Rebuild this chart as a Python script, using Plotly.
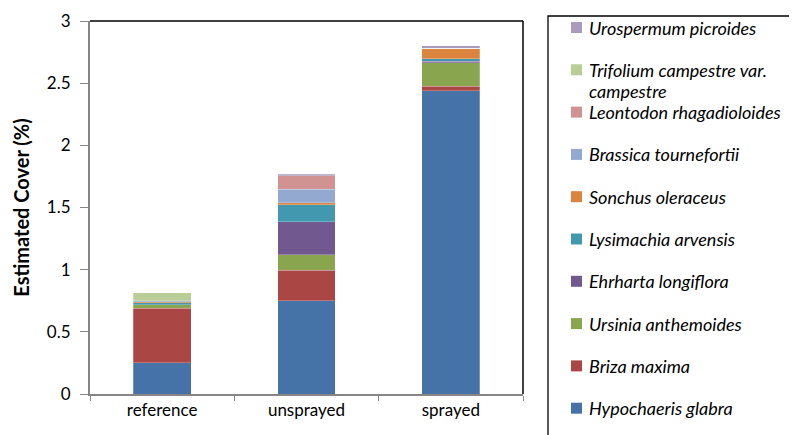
import plotly.graph_objects as go

categories = ["reference", "unsprayed", "sprayed"]

species = [
    "Hypochaeris glabra",
    "Briza maxima",
    "Ursinia anthemoides",
    "Ehrharta longiflora",
    "Lysimachia arvensis",
    "Sonchus oleraceus",
    "Brassica tournefortii",
    "Leontodon rhagadioloides",
    "Trifolium campestre var.<br>campestre",
    "Urospermum picroides",
]

hypochaeris = [0.25, 0.75, 2.44]
briza = [0.44, 0.245, 0.035]
ursinia = [0.027, 0.124, 0.19]
ehrharta = [0.0, 0.265, 0.01]
lysimachia = [0.018, 0.137, 0.02]
sonchus = [0.008, 0.018, 0.08]
brassica = [0.008, 0.107, 0.005]
leontodon = [0.0, 0.11, 0.0]
trifolium = [0.064, 0.0, 0.0]
urospermum = [0.0, 0.01, 0.02]

series = [hypochaeris, briza, ursinia, ehrharta, lysimachia,
          sonchus, brassica, leontodon, trifolium, urospermum]

colors = ["#4572A7", "#AA4643", "#89A54E", "#71588F", "#4198AF",
          "#DB843D", "#93A9CF", "#D19392", "#B9CD96", "#A99BBD"]

FONT = "Lato, 'Open Sans', sans-serif"

# figure sits at an 8px body offset in the page
W, H = 789, 427
ML, MR, MT, MB = 82, 274, 13, 41
PW = W - ML - MR
PH = H - MT - MB


def px_to_paper(xp, yp):
    # page pixel -> paper coords (page = figure + 8px offset)
    return ((xp - 8 - ML) / PW, (H - MB - (yp - 8)) / PH)


fig = go.Figure()
for i, (name, vals, col) in enumerate(zip(species, series, colors)):
    fig.add_trace(go.Bar(
        x=categories, y=vals, name=name.replace("<br>", " "),
        marker=dict(color=col, line=dict(color="rgba(255,255,255,0.5)", width=0.5)),
        width=0.40, showlegend=False,
    ))

# hand-built legend (uniform spacing like the original)
shapes = [
    dict(type="line", xref="paper", yref="paper", x0=0, x1=1, y0=1, y1=1,
         line=dict(color="#000000", width=1.5)),
    dict(type="line", xref="paper", yref="paper", x0=1, x1=1, y0=0, y1=1,
         line=dict(color="#000000", width=1.5)),
]
annotations = []
bx0, by0 = px_to_paper(548, 16)
bx1, by1 = px_to_paper(820, 460)
shapes.append(dict(type="rect", xref="paper", yref="paper", x0=bx0, x1=bx1, y0=by0, y1=by1,
                   line=dict(color="#000000", width=1.3), fillcolor="rgba(0,0,0,0)"))
n = len(species)
for k in range(n):
    i = n - 1 - k
    yc = 27.5 + k * 42.3
    sx0, sy0 = px_to_paper(571, yc - 5.5)
    sx1, sy1 = px_to_paper(582, yc + 5.5)
    shapes.append(dict(type="rect", xref="paper", yref="paper", x0=sx0, x1=sx1, y0=sy1, y1=sy0,
                       line=dict(width=0), fillcolor=colors[i]))
    for j, line in enumerate(species[i].split("<br>")):
        tx, ty = px_to_paper(587, yc + j * 21.5)
        annotations.append(dict(xref="paper", yref="paper", x=tx, y=ty, xanchor="left",
                                yanchor="middle", text="<i>" + line + "</i>", showarrow=False,
                                align="left", font=dict(family=FONT, size=18, color="#000000")))

fig.update_layout(
    barmode="stack",
    width=W, height=H,
    margin=dict(l=ML, r=MR, t=MT, b=MB, autoexpand=False),
    paper_bgcolor="white", plot_bgcolor="white",
    font=dict(family=FONT, color="#000000"),
    showlegend=False,
    xaxis=dict(
        showline=True, linecolor="#868686", linewidth=2,
        ticks="outside", tickson="boundaries", ticklen=5, tickcolor="#868686",
        tickfont=dict(family=FONT, size=17, color="#000000"),
        showgrid=False, zeroline=False, automargin=False,
    ),
    yaxis=dict(
        range=[0, 3], dtick=0.5, tickformat="~g",
        showline=True, linecolor="#868686", linewidth=2,
        ticks="outside", ticklen=8, tickcolor="#868686",
        ticklabelstandoff=6,
        tickfont=dict(family=FONT, size=17, color="#000000"),
        showgrid=False, zeroline=False, automargin=False,
        title=dict(text="<b>Estimated Cover (%)</b>", font=dict(family=FONT, size=20), standoff=12),
    ),
    shapes=shapes,
    annotations=annotations,
)

fig.write_html("out.html")
